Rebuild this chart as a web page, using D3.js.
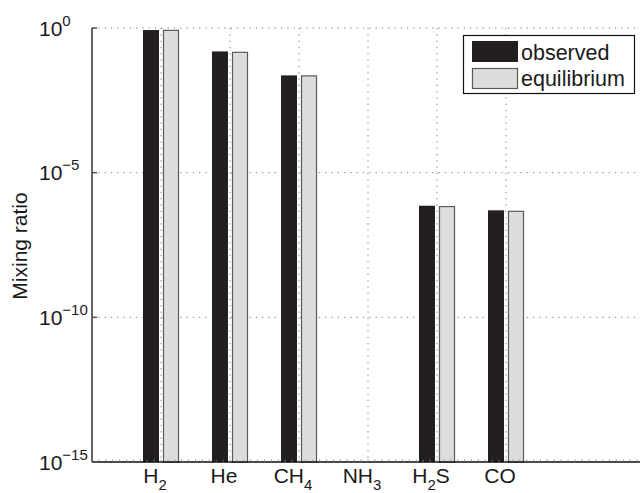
<!DOCTYPE html>
<html><head><meta charset="utf-8">
<script src="https://cdn.jsdelivr.net/npm/d3@7"></script>
<style>body{margin:0;background:#fff;} svg{display:block;font-family:"Liberation Sans",Arial,sans-serif;}</style>
</head><body>
<script>
const categories = [
  {base:"H", sub:"2", tail:""},
  {base:"He", sub:"", tail:""},
  {base:"CH", sub:"4", tail:""},
  {base:"NH", sub:"3", tail:""},
  {base:"H", sub:"2", tail:"S"},
  {base:"CO", sub:"", tail:""}
];
const observed    = [0.85, 0.155, 0.023, null, 7.2e-7, 5.0e-7];
const equilibrium = [0.86, 0.150, 0.023, null, 7.0e-7, 4.8e-7];
const yTickExps = [0, -5, -10, -15];
const seriesNames = ["observed", "equilibrium"];

const W = 640, H = 493;
const svg = d3.select("body").append("svg").attr("width", W).attr("height", H);
const x = d3.scaleLinear().domain([0, 8]).range([92, 644]);
const y = d3.scaleLog().domain([1e-15, 1]).range([462, 28]);

// grid
const g = svg.append("g");
yTickExps.forEach(e => {
  g.append("line").attr("x1", x(0)).attr("x2", x(8)).attr("y1", y(Math.pow(10, e))).attr("y2", y(Math.pow(10, e)))
    .attr("stroke", "#808080").attr("stroke-width", 1).attr("stroke-dasharray", "1.3,5");
});
categories.forEach((c, i) => {
  g.append("line").attr("x1", x(i + 1)).attr("x2", x(i + 1)).attr("y1", y(1)).attr("y2", y(1e-15))
    .attr("stroke", "#808080").attr("stroke-width", 1).attr("stroke-dasharray", "1.3,5");
});

// bars
const off = 0.145, bw = 0.232;
const bars = svg.append("g");
observed.forEach((v, i) => {
  if (v == null) return;
  bars.append("rect").attr("x", x(i + 1 - off - bw / 2)).attr("width", x(bw) - x(0))
    .attr("y", y(v)).attr("height", y(1e-15) - y(v)).attr("fill", "#231f20");
});
equilibrium.forEach((v, i) => {
  if (v == null) return;
  bars.append("rect").attr("x", x(i + 1 + off - bw / 2) + 0.5).attr("width", x(bw) - x(0) - 1)
    .attr("y", y(v) + 0.5).attr("height", y(1e-15) - y(v) - 0.5).attr("fill", "#dcdddf")
    .attr("stroke", "#5a5a5a").attr("stroke-width", 1.2);
});

// axes
svg.append("line").attr("x1", x(0)).attr("x2", x(0)).attr("y1", y(1)).attr("y2", y(1e-15)).attr("stroke", "#111").attr("stroke-width", 1.3);
svg.append("line").attr("x1", x(0)).attr("x2", x(8)).attr("y1", y(1e-15)).attr("y2", y(1e-15)).attr("stroke", "#111").attr("stroke-width", 1.5);
// minor x ticks
d3.range(1, 80).forEach(k => {
  svg.append("line").attr("x1", x(k / 10)).attr("x2", x(k / 10)).attr("y1", y(1e-15)).attr("y2", y(1e-15) - 2.5)
    .attr("stroke", "#777").attr("stroke-width", 0.8);
});
// major y ticks
yTickExps.forEach(e => {
  svg.append("line").attr("x1", x(0)).attr("x2", x(0) + 5).attr("y1", y(Math.pow(10, e))).attr("y2", y(Math.pow(10, e)))
    .attr("stroke", "#555").attr("stroke-width", 1.5);
});

// y tick labels
yTickExps.forEach(e => {
  const t = svg.append("text").attr("x", 39).attr("y", y(Math.pow(10, e)) + 7.5).attr("font-size", 21).attr("fill", "#1a1a1a");
  t.append("tspan").text("10");
  t.append("tspan").attr("font-size", 15).attr("dy", -10).text(e < 0 ? "\u2212" + (-e) : String(e));
});

// x category labels
categories.forEach((c, i) => {
  const t = svg.append("text").attr("x", x(i + 1) - 6).attr("y", 483).attr("text-anchor", "middle").attr("font-size", 21).attr("fill", "#1a1a1a");
  t.append("tspan").text(c.base);
  if (c.sub) t.append("tspan").attr("font-size", 15).attr("dy", 7).text(c.sub);
  if (c.tail) t.append("tspan").attr("dy", -7).text(c.tail);
});

// y label
svg.append("text").attr("transform", "translate(27,246) rotate(-90)").attr("text-anchor", "middle")
  .attr("font-size", 21).attr("fill", "#1a1a1a").text("Mixing ratio");

// legend
const lg = svg.append("g");
lg.append("rect").attr("x", 463.5).attr("y", 35.5).attr("width", 171).attr("height", 58).attr("fill", "#fff").attr("stroke", "#111").attr("stroke-width", 1.2);
lg.append("rect").attr("x", 472).attr("y", 41).attr("width", 46).attr("height", 21).attr("fill", "#231f20");
lg.append("rect").attr("x", 472.5).attr("y", 68.5).attr("width", 45).attr("height", 20).attr("fill", "#dcdddf").attr("stroke", "#5a5a5a").attr("stroke-width", 1.2);
lg.append("text").attr("x", 521).attr("y", 60).attr("font-size", 21.5).attr("fill", "#1a1a1a").text(seriesNames[0]);
lg.append("text").attr("x", 521).attr("y", 86).attr("font-size", 21.5).attr("fill", "#1a1a1a").text(seriesNames[1]);
</script>
</body></html>
